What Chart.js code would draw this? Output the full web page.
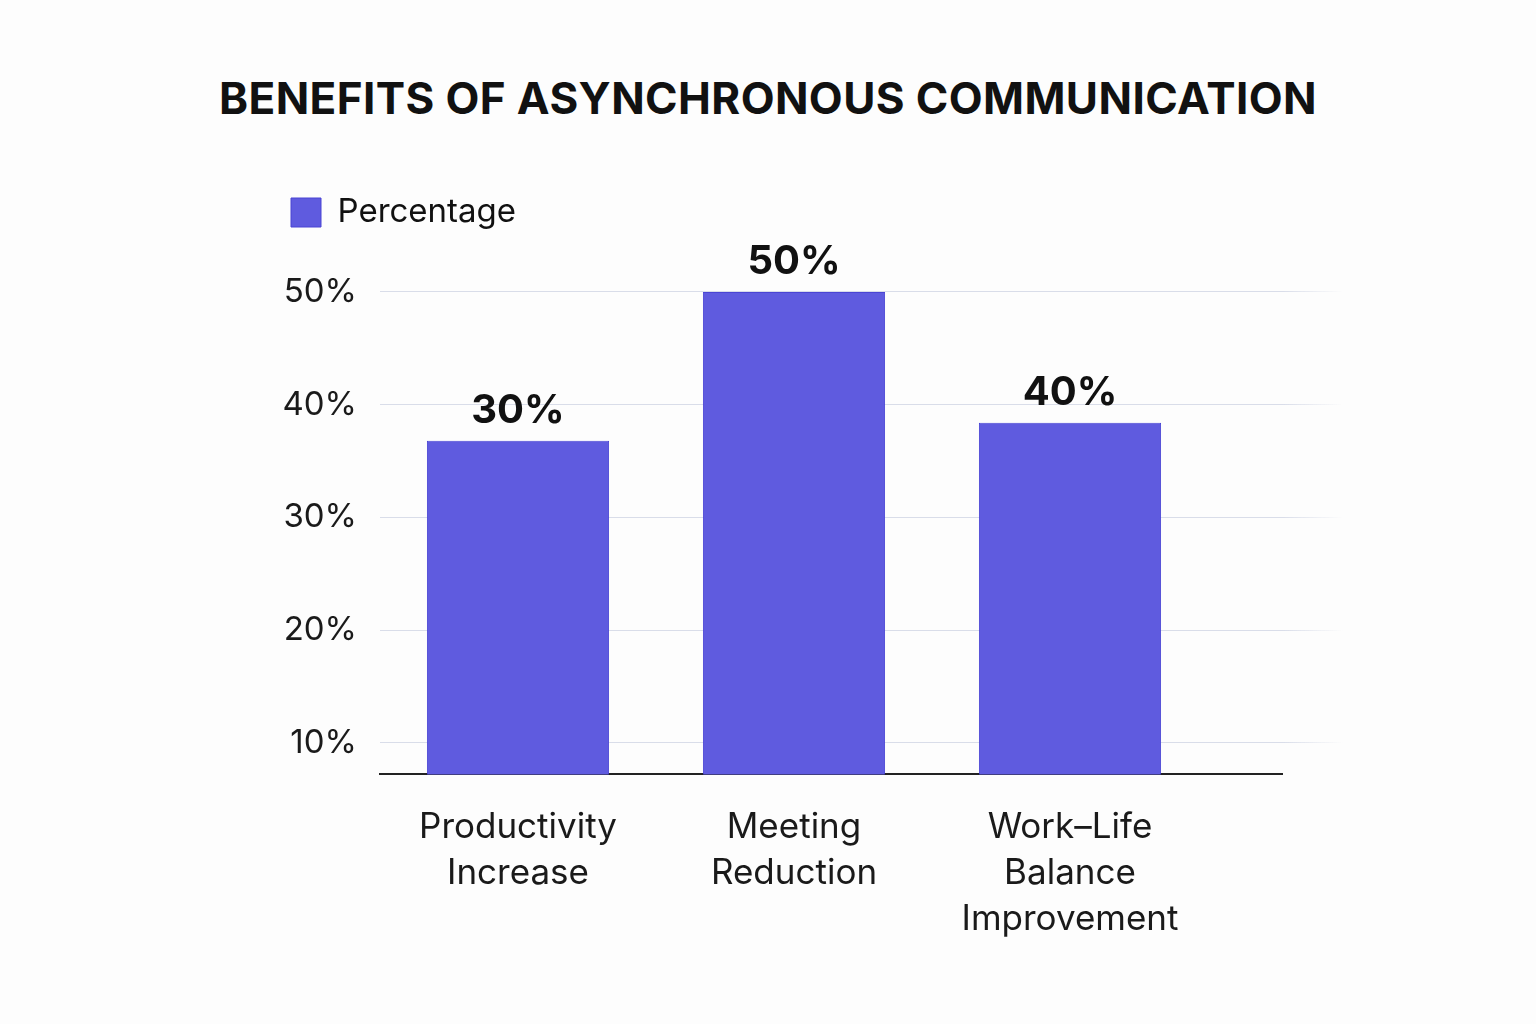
<!DOCTYPE html>
<html>
<head>
<meta charset="utf-8">
<script src="https://cdn.jsdelivr.net/npm/chart.js@4.4.1/dist/chart.umd.min.js"></script>
<style>
    html, body { margin: 0; padding: 0; background: #fdfdfd; }
    .wrap { position: relative; width: 1536px; height: 1024px; }
    .title {
        position: absolute; left: 0; right: 0; top: 71px;
        text-align: center; font-family: Inter, sans-serif; font-weight: 700;
        font-size: 44px; color: #111; letter-spacing: 0.4px;
    }
    canvas { position: absolute; left: 0; top: 0; }
</style>
</head>
<body>
<div class="wrap">
    <div class="title">BENEFITS OF ASYNCHRONOUS COMMUNICATION</div>
    <canvas id="benefitsChart" width="1536" height="1024"></canvas>
</div>
<script>
// Chart data
const categories = [['Productivity', 'Increase'], ['Meeting', 'Reduction'], ['Work–Life', 'Balance', 'Improvement']];
const percentages = [36.8, 50, 38.4];
const barLabels = ['30%', '50%', '40%'];
const yTicks = [10, 20, 30, 40, 50];

const purple = '#5f5bdf';
const gridColor = '#d9dde9';

// Value labels above each bar
const valueLabels = {
    id: 'valueLabels',
    afterDatasetsDraw(chart) {
        const ctx = chart.ctx;
        const meta = chart.getDatasetMeta(0);
        ctx.save();
        ctx.font = '700 40px Inter, sans-serif';
        ctx.fillStyle = '#111';
        ctx.textAlign = 'center';
        ctx.textBaseline = 'bottom';
        meta.data.forEach((bar, i) => {
            ctx.fillText(barLabels[i], bar.x, bar.y - 10);
        });
        ctx.restore();
    }
};

// Grid lines and baseline run on past the last bar, then fade out
const gridTail = {
    id: 'gridTail',
    beforeDatasetsDraw(chart) {
        const ctx = chart.ctx;
        const area = chart.chartArea;
        const y = chart.scales.y;
        const fadeEnd = area.right + 135;
        ctx.save();
        ctx.lineWidth = 1;
        yTicks.forEach(v => {
            // same pixel alignment the library uses for its own grid lines
            const py = Math.round(y.getPixelForValue(v) - 0.5) + 0.5;
            const grad = ctx.createLinearGradient(area.right, 0, fadeEnd, 0);
            grad.addColorStop(0, gridColor);
            grad.addColorStop(75 / 135, gridColor);
            grad.addColorStop(1, 'rgba(217,221,233,0)');
            ctx.strokeStyle = grad;
            ctx.beginPath();
            ctx.moveTo(area.right - 1, py);
            ctx.lineTo(fadeEnd, py);
            ctx.stroke();
        });
        ctx.restore();
    },
    afterDraw(chart) {
        const ctx = chart.ctx;
        const area = chart.chartArea;
        const py = Math.round(area.bottom);
        ctx.save();
        ctx.strokeStyle = '#222';
        ctx.lineWidth = 2;
        ctx.beginPath();
        ctx.moveTo(area.right - 1, py);
        ctx.lineTo(area.right + 75, py);
        ctx.stroke();
        ctx.restore();
    }
};

new Chart(document.getElementById('benefitsChart'), {
    type: 'bar',
    data: {
        labels: categories,
        datasets: [{
            label: 'Percentage',
            data: percentages,
            backgroundColor: purple,
            borderColor: '#4a45d4',
            borderWidth: 1,
            barPercentage: 0.66,
            categoryPercentage: 1
        }]
    },
    options: {
        responsive: false,
        animation: false,
        layout: {
            padding: { top: 186, left: 281, right: 328, bottom: 59 }
        },
        plugins: {
            title: { display: false },
            tooltip: { enabled: false },
            legend: {
                position: 'top',
                align: 'start',
                labels: {
                    boxWidth: 30,
                    boxHeight: 29,
                    padding: 10,
                    color: '#111',
                    font: { family: 'Inter, sans-serif', size: 33 }
                }
            }
        },
        scales: {
            y: {
                min: 7.2,
                max: 54.7,
                afterFit: s => { s.width = 99; },
                afterBuildTicks: s => { s.ticks = yTicks.map(v => ({ value: v })); },
                grid: { color: gridColor, drawTicks: false },
                border: { display: false },
                ticks: {
                    padding: 23,
                    color: '#1a1a1a',
                    font: { family: 'Inter, sans-serif', size: 33 },
                    callback: v => v + '%'
                }
            },
            x: {
                grid: { display: false },
                border: { color: '#222', width: 2 },
                ticks: {
                    padding: 22,
                    color: '#1a1a1a',
                    font: { family: 'Inter, sans-serif', size: 35, lineHeight: 1.32 }
                }
            }
        }
    },
    plugins: [valueLabels, gridTail]
});
</script>
</body>
</html>
